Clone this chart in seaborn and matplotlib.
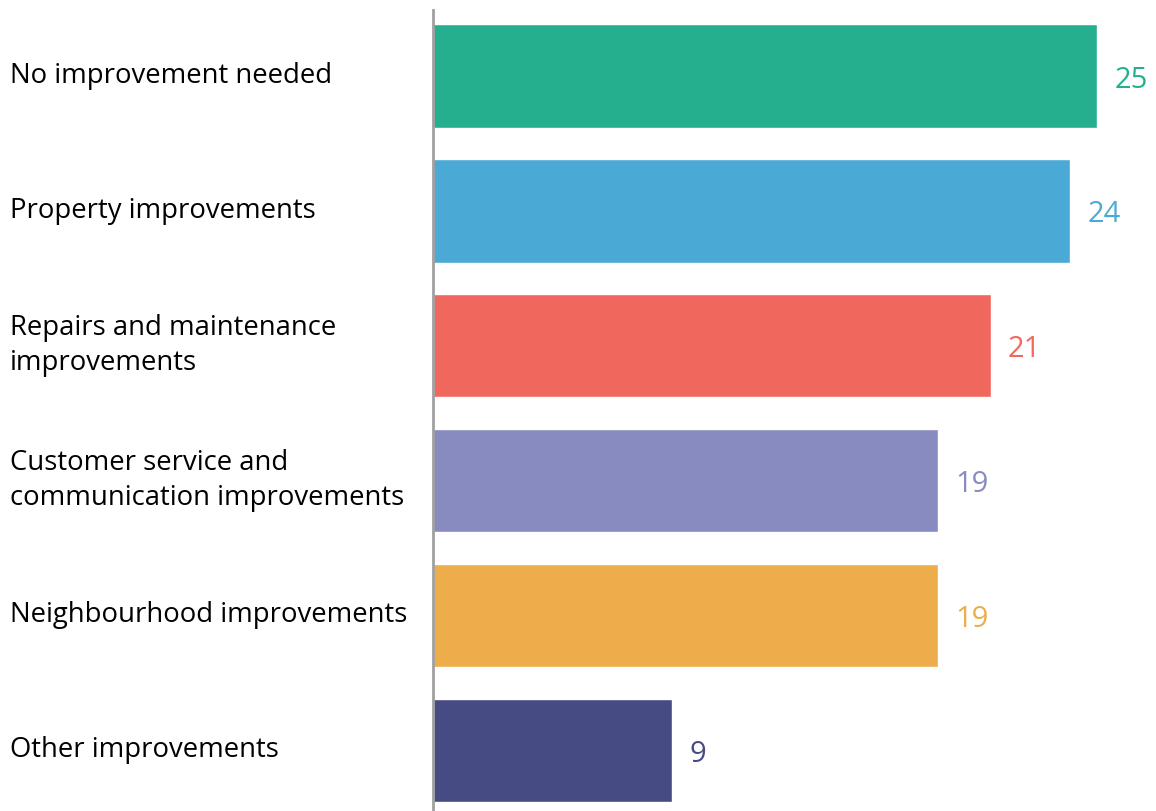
import matplotlib
matplotlib.use("Agg")
import matplotlib.pyplot as plt
import seaborn as sns
import pandas as pd

# ==========================================
# Data
# ==========================================

categories = [
    "No improvement needed",
    "Property improvements",
    "Repairs and maintenance\nimprovements",
    "Customer service and\ncommunication improvements",
    "Neighbourhood improvements",
    "Other improvements",
]
values = [25, 24, 21, 19, 19, 9]
colors = ["#26AF8F", "#4BAAD5", "#F0675E", "#878BBF", "#EDAD4A", "#464B84"]

df = pd.DataFrame({"category": categories, "value": values})

# ==========================================
# Plot
# ==========================================

sns.set_style("white")
plt.rcParams["font.family"] = ["Open Sans", "DejaVu Sans"]

fig = plt.figure(figsize=(11.56, 8.11), dpi=100)
ax = fig.add_axes([433 / 1156, 0, 1 - 433 / 1156, 801 / 811])

sns.barplot(
    data=df,
    y="category",
    x="value",
    hue="category",
    palette=colors,
    legend=False,
    width=0.765,
    saturation=1,
    ax=ax,
)

ax.set_xlim(0, 723 / 26.56)
ax.set_ylim(5.45, -0.49)

for i, (v, c) in enumerate(zip(values, colors)):
    ax.text(v + 0.65, i + 0.03, str(v), va="center", ha="left",
            fontsize=21, color=c)

ax.set_xlabel("")
ax.set_ylabel("")
ax.set_xticks([])
ax.set_yticks([])

for side in ["top", "right", "bottom"]:
    ax.spines[side].set_visible(False)
ax.spines["left"].set_color("#A0A0A0")
ax.spines["left"].set_linewidth(2)

for i, label in enumerate(categories):
    ax.text(-423 / 26.56, i, label, va="center", ha="left",
            fontsize=19.8, color="#000000", linespacing=1.35)

plt.savefig("out.png", dpi=100)
